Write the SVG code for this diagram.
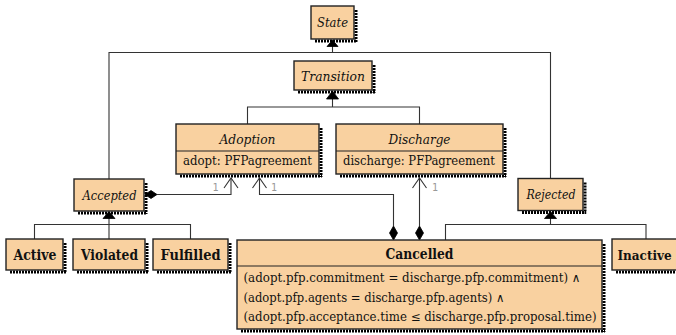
<svg xmlns="http://www.w3.org/2000/svg" width="676" height="335" viewBox="0 0 676 335">
<style>
.box{fill:#F9D1A0;stroke:#222;stroke-width:1.4}
.div{stroke:#222;stroke-width:1.2}
.sh{stroke:#000;stroke-width:3;stroke-dasharray:2 1;fill:none}
.ln{fill:none;stroke:#333;stroke-width:1.1}
.tri{fill:#000;stroke:#000;stroke-width:0.8}
.dia{fill:#000;stroke:#000;stroke-width:0.8}
.t{font-family:'DejaVu Serif','Liberation Serif',serif;font-size:13px;fill:#111}
.i{font-style:italic;text-anchor:middle}
.b{font-weight:bold;text-anchor:middle;font-size:14px}
.a{font-size:12px}
.m{font-family:'DejaVu Sans Mono','Liberation Mono',monospace;font-size:10px;fill:#999;text-anchor:middle}
</style>
<rect width="676" height="335" fill="#fff"/>
<g id="connectors">
  <polyline class="ln" points="109,179 109,52.5 550.5,52.5 550.5,178.5"/>
  <line class="ln" x1="332.5" y1="52.5" x2="332.5" y2="45"/>
  <polygon class="tri" points="332.5,40 327,46.5 338,46.5"/>
  <polyline class="ln" points="247.5,124 247.5,107 419.5,107 419.5,124"/>
  <line class="ln" x1="332.5" y1="107" x2="332.5" y2="98"/>
  <polygon class="tri" points="332.5,91 326.5,99 338.5,99"/>
  <polyline class="ln" points="34.5,239 34.5,224.5 190.5,224.5 190.5,239"/>
  <line class="ln" x1="109" y1="239" x2="109" y2="217"/>
  <polygon class="tri" points="109,211.5 103,218.5 115,218.5"/>
  <polyline class="ln" points="445.5,240 445.5,224.5 646,224.5 646,239"/>
  <line class="ln" x1="550.5" y1="224.5" x2="550.5" y2="217"/>
  <polygon class="tri" points="550.5,211.5 544.5,218.5 556.5,218.5"/>
  <polyline class="ln" points="231,178 231,194.5 157,194.5"/>
  <polygon class="dia" points="145,194.5 151,190.5 157,194.5 151,198.5"/>
  <polyline class="ln" points="224,188 231,178 238,188"/>
  <polyline class="ln" points="259.5,178 259.5,194.5 393.5,194.5 393.5,226"/>
  <polygon class="dia" points="393.5,226 389.5,233 393.5,240 397.5,233"/>
  <polyline class="ln" points="252.5,188 259.5,178 266.5,188"/>
  <line class="ln" x1="419.5" y1="178" x2="419.5" y2="226"/>
  <polygon class="dia" points="419.5,226 415.5,233 419.5,240 423.5,233"/>
  <polyline class="ln" points="412.5,188 419.5,178 426.5,188"/>
  <text class="m" x="215.5" y="190.5">1</text>
  <text class="m" x="274" y="190.5">1</text>
  <text class="m" x="435" y="190.5">1</text>
</g>
<g id="State">
  <path class="sh" d="M356,10 V42 M315,41 H357"/>
  <rect class="box" x="311" y="6" width="43" height="33"/>
  <text class="t i" x="332.5" y="27" textLength="31" lengthAdjust="spacingAndGlyphs">State</text>
</g>
<g id="Transition">
  <path class="sh" d="M374,65 V93 M298,92 H375"/>
  <rect class="box" x="294" y="61" width="78" height="29"/>
  <text class="t i" x="333" y="81" textLength="64" lengthAdjust="spacingAndGlyphs">Transition</text>
</g>
<g id="Adoption">
  <path class="sh" d="M321,128 V177 M180,176 H322"/>
  <rect class="box" x="176" y="124" width="143" height="50"/>
  <line class="div" x1="176" y1="151" x2="319" y2="151"/>
  <text class="t i" x="247.5" y="144" textLength="56" lengthAdjust="spacingAndGlyphs">Adoption</text>
  <text class="t" x="183" y="165" textLength="129" lengthAdjust="spacingAndGlyphs">adopt: PFPagreement</text>
</g>
<g id="Discharge">
  <path class="sh" d="M505,128 V177 M340,176 H506"/>
  <rect class="box" x="336" y="124" width="167" height="50"/>
  <line class="div" x1="336" y1="151" x2="503" y2="151"/>
  <text class="t i" x="419.5" y="144" textLength="62" lengthAdjust="spacingAndGlyphs">Discharge</text>
  <text class="t" x="343" y="165" textLength="152" lengthAdjust="spacingAndGlyphs">discharge: PFPagreement</text>
</g>
<g id="Accepted">
  <path class="sh" d="M146,183 V214 M78,213 H147"/>
  <rect class="box" x="74" y="179" width="70" height="32"/>
  <text class="t i" x="109.5" y="199.5" textLength="54" lengthAdjust="spacingAndGlyphs">Accepted</text>
</g>
<g id="Rejected">
  <path class="sh" d="M585,182.5 V213.5 M522,212.5 H586"/>
  <rect class="box" x="518" y="178.5" width="65" height="32"/>
  <text class="t i" x="551" y="199" textLength="49" lengthAdjust="spacingAndGlyphs">Rejected</text>
</g>
<g id="Active">
  <path class="sh" d="M65,243 V273 M10,272 H66"/>
  <rect class="box" x="6" y="239" width="57" height="31"/>
  <text class="t b" x="35" y="260" textLength="43" lengthAdjust="spacingAndGlyphs">Active</text>
</g>
<g id="Violated">
  <path class="sh" d="M147,243 V273 M77,272 H148"/>
  <rect class="box" x="73" y="239" width="72" height="31"/>
  <text class="t b" x="109.5" y="260" textLength="57" lengthAdjust="spacingAndGlyphs">Violated</text>
</g>
<g id="Fulfilled">
  <path class="sh" d="M230,243 V273 M157,272 H231"/>
  <rect class="box" x="153" y="239" width="75" height="31"/>
  <text class="t b" x="190.5" y="260" textLength="60" lengthAdjust="spacingAndGlyphs">Fulfilled</text>
</g>
<g id="Cancelled">
  <path class="sh" d="M604,244 V332 M241,331 H605"/>
  <rect class="box" x="237" y="240" width="365" height="89"/>
  <line class="div" x1="237" y1="266" x2="602" y2="266"/>
  <text class="t b" x="419.5" y="258.5" textLength="68" lengthAdjust="spacingAndGlyphs">Cancelled</text>
  <text class="t a" x="243.5" y="281.5" textLength="337" lengthAdjust="spacingAndGlyphs">(adopt.pfp.commitment = discharge.pfp.commitment) ∧</text>
  <text class="t a" x="243.5" y="301.5" textLength="261" lengthAdjust="spacingAndGlyphs">(adopt.pfp.agents = discharge.pfp.agents) ∧</text>
  <text class="t a" x="243.5" y="321" textLength="353" lengthAdjust="spacingAndGlyphs">(adopt.pfp.acceptance.time ≤ discharge.pfp.proposal.time)</text>
</g>
<g id="Inactive">
  <path class="sh" d="M616,272 H684"/>
  <rect class="box" x="612" y="239" width="70" height="31"/>
  <text class="t b" x="617.5" y="259.5" style="text-anchor:start;font-size:12px">Inactive</text>
</g>
</svg>
